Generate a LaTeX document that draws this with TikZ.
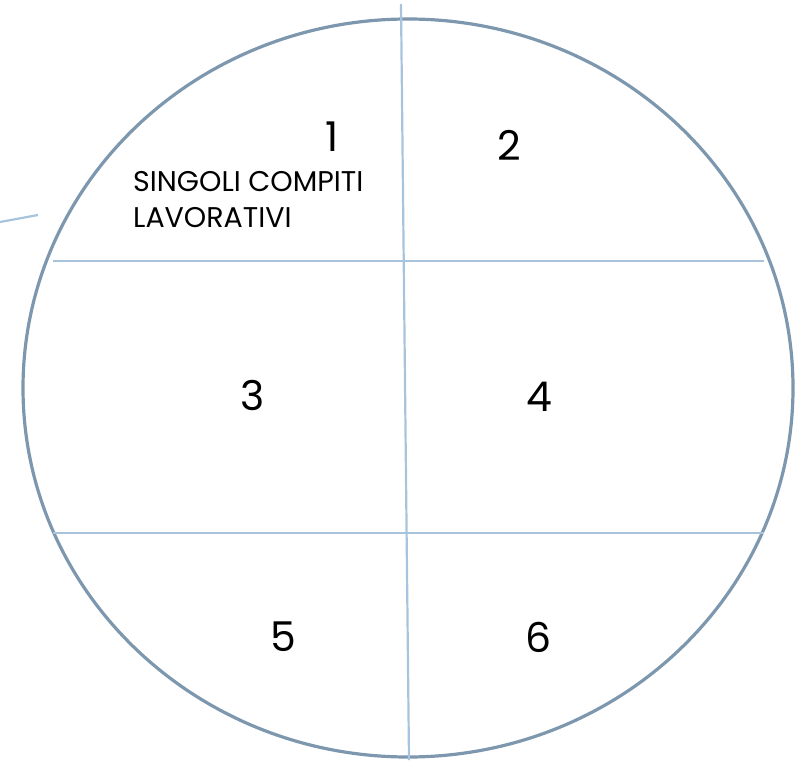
\documentclass[tikz,border=0pt]{standalone}
\usepackage{fontspec}
\setmainfont{Poppins}
\definecolor{ringc}{HTML}{7D98AE}
\definecolor{gridc}{HTML}{A8C4DC}
\begin{document}
\begin{tikzpicture}[x=1pt,y=-1pt,
  ring/.style={draw=ringc,line width=3.2pt},
  grid/.style={draw=gridc,line width=2.2pt},
  num/.style={font=\fontsize{41}{41}\selectfont,text=black,inner sep=0pt},
  lbl/.style={font=\fontsize{28.5}{36}\selectfont,text=black,align=left,inner sep=0pt,anchor=north west}]
\useasboundingbox (0,0) rectangle (802,760);
\draw[ring] (408,388) ellipse [x radius=385, y radius=369];
\coordinate (vt) at (401,4);
\coordinate (vb) at (409,760);
\coordinate (h1l) at (53,261);
\coordinate (h1r) at (764,261);
\coordinate (h2l) at (53,533);
\coordinate (h2r) at (764,533);
\coordinate (sa) at (0,222);
\coordinate (sb) at (38,215);
\draw[grid] (vt) -- (vb);
\draw[grid] (h1l) -- (h1r);
\draw[grid] (h2l) -- (h2r);
\draw[grid] (sa) -- (sb);
\node[num] (n1) at (332,137) {1};
\node[num] (n2) at (509,145) {2};
\node[num] (n3) at (253,395) {3};
\node[num] (n4) at (539,397) {4};
\node[num] (n5) at (283,637) {5};
\node[num] (n6) at (539,637) {6};
\node[lbl] (t) at (133,171) {SINGOLI COMPITI\\LAVORATIVI};
\end{tikzpicture}
\end{document}
